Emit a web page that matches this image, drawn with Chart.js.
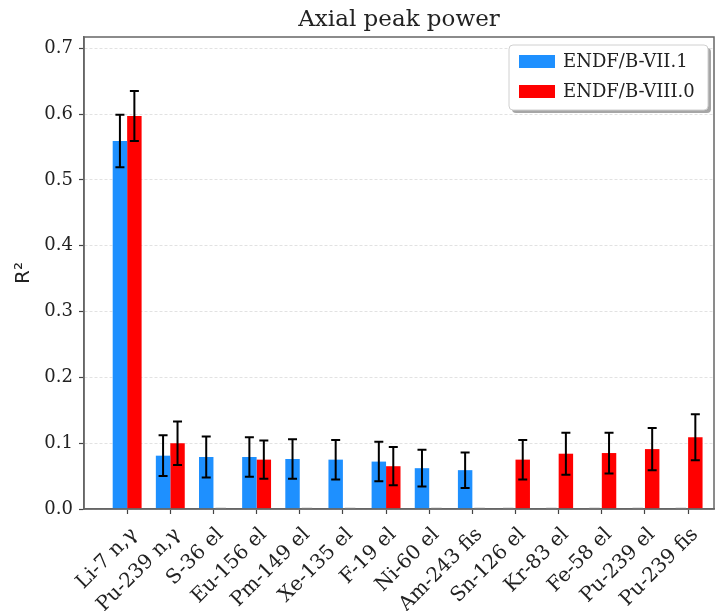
<!DOCTYPE html>
<html>
<head>
<meta charset="utf-8">
<script src="https://cdn.jsdelivr.net/npm/chart.js@4"></script>
<style>
  html, body { margin: 0; padding: 0; background: #fff; }
  #wrap { width: 717px; height: 611px; }
</style>
</head>
<body>
<div id="wrap"><canvas id="r2chart"></canvas></div>
<script>
var categories = ['Li-7 n,γ', 'Pu-239 n,γ', 'S-36 el', 'Eu-156 el', 'Pm-149 el', 'Xe-135 el', 'F-19 el',
                  'Ni-60 el', 'Am-243 fis', 'Sn-126 el', 'Kr-83 el', 'Fe-58 el', 'Pu-239 el', 'Pu-239 fis'];
var vii1    = [0.559, 0.081, 0.079, 0.079, 0.076, 0.075, 0.072, 0.062, 0.059, 0, 0, 0, 0, 0];
var vii1Err = [0.040, 0.031, 0.031, 0.030, 0.030, 0.030, 0.030, 0.028, 0.027, 0, 0, 0, 0, 0];
var viii0    = [0.597, 0.100, 0, 0.075, 0, 0, 0.065, 0, 0, 0.075, 0.084, 0.085, 0.091, 0.109];
var viii0Err = [0.038, 0.033, 0, 0.029, 0, 0, 0.029, 0, 0, 0.030, 0.032, 0.031, 0.032, 0.035];
var yTicks = [0, 0.1, 0.2, 0.3, 0.4, 0.5, 0.6, 0.7];
var chartTitle = 'Axial peak power';

function points(vals) {
    return vals.map(function (v, i) { return { x: i, y: v }; });
}

// vertical error bars with caps, plus a faint stub for empty bars
var errorBars = {
    id: 'errorBars',
    afterDatasetsDraw: function (chart) {
        var ctx = chart.ctx;
        var y = chart.scales.y;
        ctx.save();
        chart.data.datasets.forEach(function (ds, di) {
            var meta = chart.getDatasetMeta(di);
            meta.data.forEach(function (bar, i) {
                var v = ds.data[i].y, e = ds.errors[i];
                if (v === 0) {
                    ctx.strokeStyle = '#c8c8c8';
                    ctx.lineWidth = 1;
                    ctx.beginPath();
                    ctx.moveTo(bar.x - bar.width / 2 + 2, y.getPixelForValue(0) - 1);
                    ctx.lineTo(bar.x + bar.width / 2 - 2, y.getPixelForValue(0) - 1);
                    ctx.stroke();
                    return;
                }
                var top = y.getPixelForValue(v + e), bot = y.getPixelForValue(v - e);
                ctx.strokeStyle = '#000';
                ctx.lineWidth = 2;
                ctx.beginPath();
                ctx.moveTo(bar.x, top); ctx.lineTo(bar.x, bot);
                ctx.moveTo(bar.x - 4.5, top); ctx.lineTo(bar.x + 4.5, top);
                ctx.moveTo(bar.x - 4.5, bot); ctx.lineTo(bar.x + 4.5, bot);
                ctx.stroke();
            });
        });
        ctx.restore();
    }
};

// axes frame, title centred over the axes, boxed legend in the upper right corner
var frameAndLegend = {
    id: 'frameAndLegend',
    afterDraw: function (chart) {
        var ctx = chart.ctx, a = chart.chartArea;
        ctx.save();
        ctx.strokeStyle = '#666';
        ctx.lineWidth = 1.5;
        ctx.strokeRect(a.left, a.top, a.right - a.left, a.bottom - a.top);

        ctx.fillStyle = '#222';
        ctx.font = '23px "DejaVu Serif"';
        ctx.textAlign = 'center';
        ctx.textBaseline = 'middle';
        ctx.fillText(chartTitle, (a.left + a.right) / 2, a.top - 17);

        var bx = a.right - 205, by = a.top + 8, bw = 199, bh = 65;
        ctx.fillStyle = 'rgba(0,0,0,0.35)';
        ctx.beginPath(); ctx.roundRect(bx + 3, by + 3, bw, bh, 4); ctx.fill();
        ctx.fillStyle = '#fff';
        ctx.strokeStyle = '#d0d0d0';
        ctx.lineWidth = 1;
        ctx.beginPath(); ctx.roundRect(bx, by, bw, bh, 4); ctx.fill(); ctx.stroke();

        ctx.font = '18px "DejaVu Serif"';
        ctx.textAlign = 'left';
        chart.data.datasets.forEach(function (ds, di) {
            var cy = by + 17 + di * 30;
            ctx.fillStyle = ds.backgroundColor;
            ctx.fillRect(bx + 10, cy - 7, 36, 13);
            ctx.fillStyle = '#222';
            ctx.fillText(ds.label, bx + 54, cy);
        });
        ctx.restore();
    }
};

var ctx = document.getElementById('r2chart').getContext('2d');
var chart = new Chart(ctx, {
    type: 'bar',
    data: {
        datasets: [{
            label: 'ENDF/B-VII.1',
            data: points(vii1),
            errors: vii1Err,
            backgroundColor: 'rgb(30, 144, 255)',
            borderWidth: 0
        }, {
            label: 'ENDF/B-VIII.0',
            data: points(viii0),
            errors: viii0Err,
            backgroundColor: 'rgb(255, 0, 0)',
            borderWidth: 0
        }]
    },
    options: {
        responsive: true,
        maintainAspectRatio: false,
        animation: false,
        categoryPercentage: 0.67,
        barPercentage: 1.0,
        layout: { padding: { top: 37, right: 3, left: 0, bottom: 0 } },
        plugins: {
            legend: { display: false },
            tooltip: { enabled: false }
        },
        scales: {
            x: {
                type: 'linear',
                offset: false,
                min: -1,
                max: 13.6,
                afterBuildTicks: function (scale) {
                    scale.ticks = categories.map(function (c, i) { return { value: i }; });
                },
                afterFit: function (scale) { scale.height = 102; },
                ticks: {
                    autoSkip: false,
                    minRotation: 45,
                    maxRotation: 45,
                    padding: 9,
                    labelOffset: 7,
                    color: '#222',
                    font: { family: 'DejaVu Serif', size: 20 },
                    callback: function (v) { return categories[v]; }
                },
                grid: { offset: false, drawOnChartArea: false, tickLength: 5, tickColor: '#444', tickWidth: 1.2 },
                border: { color: '#666', width: 1.5 }
            },
            y: {
                min: 0,
                max: 0.717,
                afterBuildTicks: function (scale) {
                    scale.ticks = yTicks.map(function (v) { return { value: v }; });
                },
                afterFit: function (scale) { scale.width = 84; },
                ticks: {
                    padding: 6,
                    color: '#222',
                    font: { family: 'DejaVu Serif', size: 18 },
                    callback: function (v) { return v.toFixed(1); }
                },
                grid: { color: '#e2e2e2', lineWidth: 1, tickLength: 5, tickColor: '#444', tickWidth: 1.2 },
                border: { color: '#666', width: 1.5, dash: [3, 2] },
                title: {
                    display: true,
                    text: 'R²',
                    color: '#222',
                    font: { family: 'DejaVu Sans', size: 20 },
                    padding: { top: 12, bottom: 4 }
                }
            }
        }
    },
    plugins: [errorBars, frameAndLegend]
});
</script>
</body>
</html>
